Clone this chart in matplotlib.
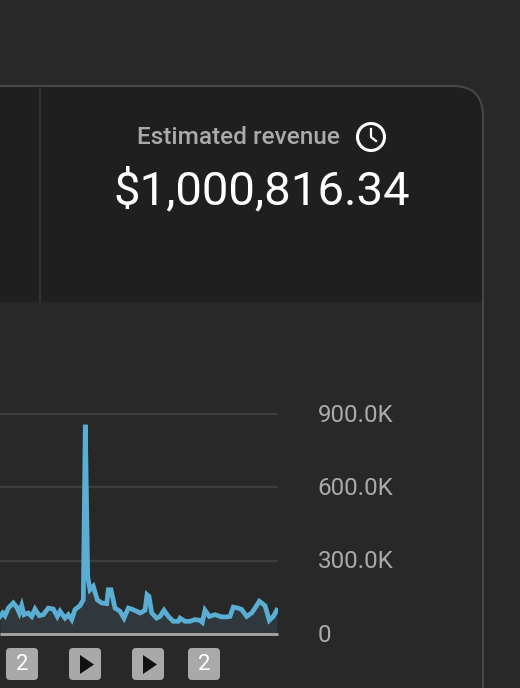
import matplotlib
matplotlib.use("Agg")
import matplotlib.pyplot as plt
from matplotlib.patches import Circle, FancyBboxPatch, PathPatch, Polygon
from matplotlib.path import Path
from matplotlib.transforms import ScaledTranslation

plt.rcParams["font.family"] = ["Roboto", "DejaVu Sans"]

# values
days = [0, 2.7, 5, 8.3, 13.3, 16.7, 19.3, 21.7, 24, 28.3, 31.7, 35, 39.3, 43.3, 48.3, 53.3,
        57.3, 60, 65, 68.3, 71.7, 75, 80, 83.3, 85.3, 87.7, 90, 93.3, 97.3, 101.7, 106.7,
        108.3, 111, 115, 120, 124, 128.3, 131.7, 136.7, 140, 145, 147, 149, 151.7, 156.7,
        160, 164, 168.3, 173.3, 178.3, 180, 185, 190, 195, 200, 202.3, 205, 209.3, 215,
        221.7, 226.7, 230, 233.3, 238.3, 241.7, 246.7, 251.7, 255, 259.3, 265, 269.3,
        273.3, 276.7]
revenue = [72, 86, 75, 106, 127, 110, 86, 116, 79, 86, 72, 102, 75, 79, 106, 102,
           72, 93, 65, 79, 59, 100, 116, 140, 856, 236, 181, 195, 140, 127, 124,
           181, 181, 106, 93, 65, 106, 102, 93, 86, 97, 161, 154, 86, 65,
           72, 97, 72, 52, 52, 65, 52, 52, 59, 56, 48, 97, 72, 79,
           70, 70, 72, 110, 106, 100, 72, 86, 106, 134, 116, 56,
           72, 97]
y_ticks = [0, 300, 600, 900]
y_labels = ["0", "300.0K", "600.0K", "900.0K"]
marker_days = [22, 85, 148, 204]
marker_kinds = ["2", "play", "play", "2"]

W, H = 520, 688
BG = "#282828"
PANEL = "#1f1f1f"
EDGE = "#474747"

fig = plt.figure(figsize=(W / 100, H / 100), dpi=100, facecolor=BG)

# page furniture, in pixels
bg = fig.add_axes([0, 0, 1, 1])
bg.set_xlim(0, W)
bg.set_ylim(H, 0)
bg.axis("off")

r = 30
top, right, split = 86, 483, 302
panel = Path([(0, top), (right - r, top), (right, top), (right, top + r), (right, split), (0, split), (0, top)],
             [Path.MOVETO, Path.LINETO, Path.CURVE3, Path.CURVE3, Path.LINETO, Path.LINETO, Path.CLOSEPOLY])
bg.add_patch(PathPatch(panel, fc=PANEL, ec="none"))
edge = Path([(0, top), (right - r, top), (right, top), (right, top + r), (right, H)],
            [Path.MOVETO, Path.LINETO, Path.CURVE3, Path.CURVE3, Path.LINETO])
bg.add_patch(PathPatch(edge, fc="none", ec=EDGE, lw=1.5))
bg.plot([40, 40], [top, split], color="#383838", lw=1.2)

bg.text(238.5, 138, "Estimated revenue", color="#aaaaaa", fontsize=17.6, fontweight="medium",
        ha="center", va="center")
bg.text(262, 190.5, "$1,000,816.34", color="#ffffff", fontsize=34, ha="center", va="center")

# clock icon
bg.add_patch(Circle((371, 137), 13.5, fc="none", ec="white", lw=2.2))
bg.plot([371, 371, 376], [129, 137, 141], color="white", lw=1.6)

# chart, baseline at y=634 and 900K at y=414
ax = fig.add_axes([0, 1 - 634 / H, 278 / W, 220 / H], facecolor="none")
ax.set_xlim(0, 278)
ax.set_ylim(0, 900)
for s in ax.spines.values():
    s.set_visible(False)
for t in y_ticks[1:]:
    ax.axhline(t, color="#3d3d3d", lw=1.6, zorder=1, clip_on=False, solid_capstyle="butt")
ax.axhline(0, color="#a8a8a8", lw=2, zorder=4, clip_on=False, solid_capstyle="butt")
ax.fill_between(days, revenue, 0, color="#31383d", lw=0, zorder=2)
ax.plot(days, revenue, color="#5aaed4", lw=3.4, solid_joinstyle="miter", zorder=3)
ax.set_xticks([])
ax.yaxis.tick_right()
ax.set_yticks(y_ticks, y_labels)
ax.tick_params(axis="y", length=0, pad=28.5, labelsize=17.4, labelcolor="#aaaaaa")
# labels sit a little above their gridlines
nudge = ScaledTranslation(0, 1.5 / 100, fig.dpi_scale_trans)
for lab in ax.get_yticklabels():
    lab.set_transform(lab.get_transform() + nudge)

# annotation markers under the chart
for d, kind in zip(marker_days, marker_kinds):
    bg.add_patch(FancyBboxPatch((d - 13, 651), 26, 26, boxstyle="round,pad=3,rounding_size=4",
                                fc="#a9a9a9", ec="none"))
    if kind == "play":
        bg.add_patch(Polygon([(d - 5, 655), (d - 5, 674), (d + 9, 664.5)], fc="#111111", ec="none"))
    else:
        bg.text(d, 665, kind, color="white", fontsize=16, ha="center", va="center")

fig.savefig("out.png", dpi=100, facecolor=BG)
